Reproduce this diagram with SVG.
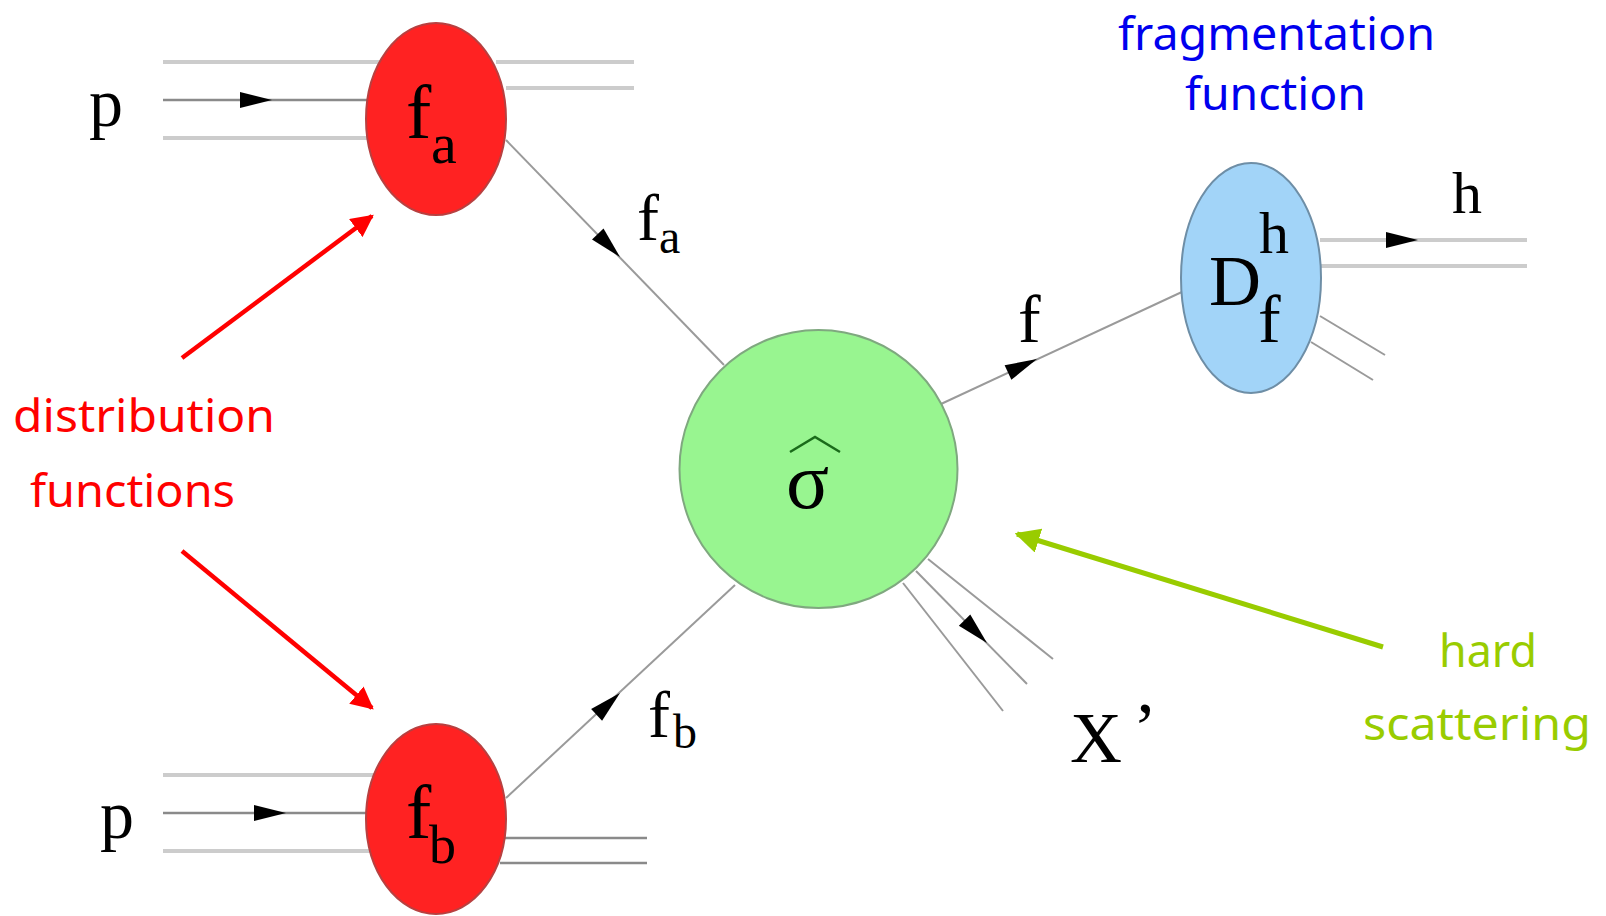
<svg xmlns="http://www.w3.org/2000/svg" xmlns:xlink="http://www.w3.org/1999/xlink" width="1606" height="916" viewBox="0 0 1606 916">
<style>
.thick{stroke:#cccccc;stroke-width:4;fill:none}
.thin{stroke:#9a9a9a;stroke-width:2;fill:none}
.mid{stroke:#8a8a8a;stroke-width:2.5;fill:none}
.math{font-family:"Liberation Serif","Times New Roman",serif;fill:#000}
.note{font-family:"Comic Sans MS","Noto Sans","DejaVu Sans",sans-serif;font-size:46px}
.red{fill:#ff0000}
.blue{fill:#0000ee}
.lime{fill:#99cc00}
</style>
<defs>
<path id="ah" d="M0,0 L-32,-8 L-32,8 Z" fill="#000"/>
<marker id="redhead" viewBox="0 0 10 10" refX="9" refY="5" markerWidth="5" markerHeight="5" orient="auto" markerUnits="strokeWidth"><path d="M0,0 L10,5 L0,10 Z" fill="#ff0000"/></marker>
<marker id="limehead" viewBox="0 0 10 10" refX="9" refY="5" markerWidth="5" markerHeight="5" orient="auto" markerUnits="strokeWidth"><path d="M0,0 L10,5 L0,10 Z" fill="#99cc00"/></marker>
</defs>
<rect width="1606" height="916" fill="#ffffff"/>

<g id="connectors">
  <!-- top proton -->
  <line class="thick" x1="163" y1="62" x2="380" y2="62"/>
  <line class="mid" x1="163" y1="100" x2="372" y2="100"/>
  <line class="thick" x1="163" y1="138" x2="375" y2="138"/>
  <line class="thick" x1="496" y1="62" x2="634" y2="62"/>
  <line class="thick" x1="506" y1="88" x2="634" y2="88"/>
  <use xlink:href="#ah" href="#ah" transform="translate(272,100)"/>
  <!-- bottom proton -->
  <line class="thick" x1="163" y1="775" x2="380" y2="775"/>
  <line class="mid" x1="163" y1="813" x2="368" y2="813"/>
  <line class="thick" x1="163" y1="851" x2="372" y2="851"/>
  <line class="mid" x1="505" y1="838" x2="647" y2="838"/>
  <line class="mid" x1="500" y1="863" x2="647" y2="863"/>
  <use xlink:href="#ah" href="#ah" transform="translate(286,813)"/>
  <!-- fa line -->
  <line class="thin" x1="506" y1="140" x2="724" y2="365"/>
  <use xlink:href="#ah" href="#ah" transform="translate(620,257) rotate(46)"/>
  <!-- fb line -->
  <line class="thin" x1="506" y1="798" x2="735" y2="585"/>
  <use xlink:href="#ah" href="#ah" transform="translate(620,693) rotate(-43)"/>
  <!-- f line -->
  <line class="thin" x1="941" y1="404" x2="1184" y2="291"/>
  <use xlink:href="#ah" href="#ah" transform="translate(1037,359) rotate(-25)"/>
  <!-- X' lines -->
  <line class="thin" x1="928" y1="559" x2="1053" y2="659"/>
  <line class="thin" x1="916" y1="571" x2="1027" y2="684"/>
  <line class="thin" x1="903" y1="583" x2="1003" y2="711"/>
  <use xlink:href="#ah" href="#ah" transform="translate(987,643) rotate(45.5)"/>
  <!-- hadron lines -->
  <line class="thick" x1="1320" y1="240" x2="1527" y2="240"/>
  <line class="thick" x1="1320" y1="266" x2="1527" y2="266"/>
  <use xlink:href="#ah" href="#ah" transform="translate(1418,240)"/>
  <line class="thin" x1="1320" y1="316" x2="1385" y2="355"/>
  <line class="thin" x1="1311" y1="342" x2="1373" y2="380"/>
  <!-- annotation arrows -->
  <line x1="182" y1="358" x2="372" y2="216" stroke="#ff0000" stroke-width="4.5" marker-end="url(#redhead)"/>
  <line x1="182" y1="551" x2="372" y2="708" stroke="#ff0000" stroke-width="4.5" marker-end="url(#redhead)"/>
  <line x1="1383" y1="647" x2="1017" y2="534" stroke="#99cc00" stroke-width="5" marker-end="url(#limehead)"/>
</g>

<g id="node-fa">
  <ellipse cx="436" cy="119" rx="70" ry="96" fill="#ff2222" stroke="#b84040" stroke-width="2"/>
  <text class="math" x="406" y="138" font-size="76">f</text>
  <text class="math" x="431" y="163" font-size="58">a</text>
</g>

<g id="node-fb">
  <ellipse cx="436" cy="819" rx="70" ry="95" fill="#ff2222" stroke="#b84040" stroke-width="2"/>
  <text class="math" x="406" y="838" font-size="76">f</text>
  <text class="math" x="429" y="863" font-size="54">b</text>
</g>

<g id="node-sigma">
  <circle cx="818.5" cy="469" r="139" fill="#98f590" stroke="#7fa87f" stroke-width="2"/>
  <polyline points="790,452 815,437 840,452" fill="none" stroke="#1a6b1a" stroke-width="2.5"/>
  <text class="math" x="786" y="508" font-size="80">σ</text>
</g>

<g id="node-D">
  <ellipse cx="1251" cy="278" rx="70" ry="115" fill="#a2d4f8" stroke="#6e8ea6" stroke-width="2"/>
  <text class="math" x="1209" y="305" font-size="72">D</text>
  <text class="math" x="1259" y="253" font-size="60">h</text>
  <text class="math" x="1258" y="342" font-size="68">f</text>
</g>

<g id="labels">
  <text class="math" x="89" y="126" font-size="68">p</text>
  <text class="math" x="100" y="838" font-size="68">p</text>
  <text class="math" x="637" y="240" font-size="66">f</text>
  <text class="math" x="659" y="253" font-size="48">a</text>
  <text class="math" x="648" y="737" font-size="66">f</text>
  <text class="math" x="673" y="748" font-size="48">b</text>
  <text class="math" x="1018" y="342" font-size="68">f</text>
  <text class="math" x="1452" y="213" font-size="60">h</text>
  <text class="math" x="1070" y="762" font-size="72">X<tspan x="1133" y="752">’</tspan></text>
</g>

<g id="notes">
  <text class="note red" x="13" y="432" textLength="262" lengthAdjust="spacingAndGlyphs">distribution</text>
  <text class="note red" x="30" y="507" textLength="205" lengthAdjust="spacingAndGlyphs">functions</text>
  <text class="note blue" x="1118" y="50" textLength="317" lengthAdjust="spacingAndGlyphs">fragmentation</text>
  <text class="note blue" x="1185" y="110" textLength="181" lengthAdjust="spacingAndGlyphs">function</text>
  <text class="note lime" x="1439" y="667" textLength="98" lengthAdjust="spacingAndGlyphs">hard</text>
  <text class="note lime" x="1363" y="740" textLength="228" lengthAdjust="spacingAndGlyphs">scattering</text>
</g>
</svg>
